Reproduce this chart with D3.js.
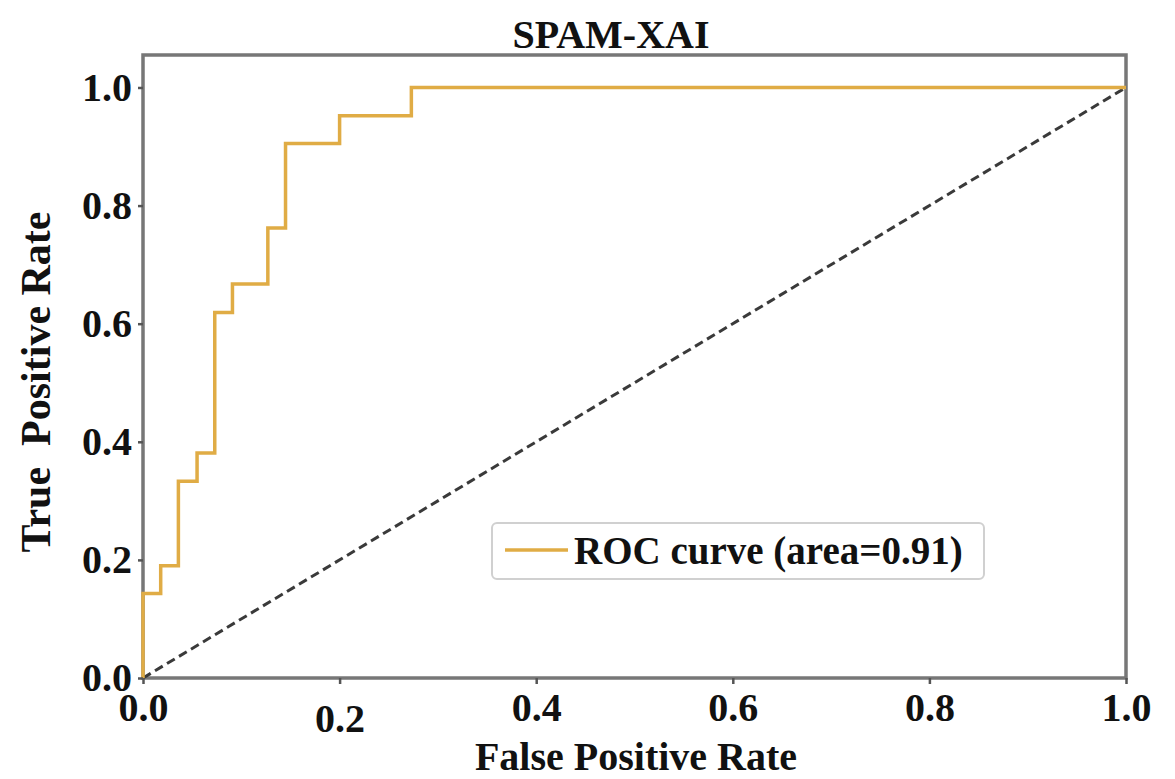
<!DOCTYPE html>
<html>
<head>
<meta charset="utf-8">
<script src="https://cdn.jsdelivr.net/npm/d3@7"></script>
<style>
  body { margin: 0; background: #fff; }
  svg { display: block; }
  text { font-family: "Liberation Serif", "Times New Roman", serif; font-weight: bold; fill: #111; }
</style>
</head>
<body>
<svg width="1175" height="779"></svg>
<script>
// ROC points
var fpr = [0, 0, 0.018, 0.036, 0.055, 0.073, 0.091, 0.127, 0.145, 0.200, 0.273, 1.0];
var tpr = [0, 0.143, 0.190, 0.333, 0.381, 0.619, 0.667, 0.762, 0.905, 0.952, 1.0, 1.0];
var chance = [0, 1];
var xTicks = [0, 0.2, 0.4, 0.6, 0.8, 1.0];
var yTicks = [0, 0.2, 0.4, 0.6, 0.8, 1.0];
var aucLabel = "ROC curve (area=0.91)";

var svg = d3.select("svg");

var x = d3.scaleLinear().domain([0, 1]).range([143, 1126]);
var y = d3.scaleLinear().domain([0, 1.055]).range([678, 55]);

// frame
svg.append("rect")
	.attr("x", x(0))
	.attr("y", y(1.055))
	.attr("width", x(1) - x(0))
	.attr("height", y(0) - y(1.055))
	.style("fill", "none")
	.style("stroke", "#777")
	.style("stroke-width", 3.5);

// chance line
svg.append("line")
	.attr("x1", x(chance[0])).attr("y1", y(chance[0]))
	.attr("x2", x(chance[1])).attr("y2", y(chance[1]))
	.style("stroke", "#3a3a3a")
	.style("stroke-width", 3)
	.style("stroke-dasharray", "9,5");

// roc curve
var pts = fpr.map(function(d, i) { return [d, tpr[i]]; });
var line = d3.line()
	.x(function(d) { return x(d[0]); })
	.y(function(d) { return y(d[1]); })
	.curve(d3.curveStepAfter);

svg.append("path")
	.datum(pts)
	.attr("d", line)
	.style("fill", "none")
	.style("stroke", "#e0ac45")
	.style("stroke-width", 3.5);

// axes
var xAxis = svg.append("g")
	.attr("transform", "translate(0," + y(0) + ")")
	.call(d3.axisBottom(x).tickValues(xTicks).tickSize(6).tickPadding(9).tickFormat(d3.format(".1f")));
var yAxis = svg.append("g")
	.attr("transform", "translate(" + x(0) + ",0)")
	.call(d3.axisLeft(y).tickValues(yTicks).tickSize(5).tickPadding(6).tickFormat(d3.format(".1f")));

[xAxis, yAxis].forEach(function(a) {
	a.select(".domain").remove();
	a.selectAll(".tick line").style("stroke", "#555").style("stroke-width", 2.5);
	a.selectAll("text")
		.style("font-family", "'Liberation Serif', serif")
		.style("font-weight", "bold")
		.style("font-size", "40px")
		.style("fill", "#111");
});
// the 0.2 label sits a bit lower in the original
xAxis.selectAll(".tick text").attr("dy", function(d) { return d === 0.2 ? "0.98em" : "0.71em"; });

// title
svg.append("text")
	.attr("x", 611)
	.attr("y", 48)
	.attr("text-anchor", "middle")
	.style("font-size", "40px")
	.text("SPAM-XAI");

// axis labels
svg.append("text")
	.attr("x", 636)
	.attr("y", 770)
	.attr("text-anchor", "middle")
	.style("font-size", "40px")
	.text("False Positive Rate");

svg.append("text")
	.attr("transform", "translate(50," + 382 + ") rotate(-90)")
	.attr("text-anchor", "middle")
	.style("font-size", "42px")
	.style("white-space", "pre")
	.text("True  Positive Rate");

// legend
var lg = svg.append("g");
lg.append("rect")
	.attr("x", 492).attr("y", 523)
	.attr("width", 492).attr("height", 56)
	.attr("rx", 5)
	.style("fill", "#fff")
	.style("stroke", "#d0d0d0")
	.style("stroke-width", 2);
lg.append("line")
	.attr("x1", 505).attr("x2", 568)
	.attr("y1", 550).attr("y2", 550)
	.style("stroke", "#e0ac45")
	.style("stroke-width", 3.5);
lg.append("text")
	.attr("x", 574)
	.attr("y", 564)
	.style("font-size", "39px")
	.text(aucLabel);
</script>
</body>
</html>
